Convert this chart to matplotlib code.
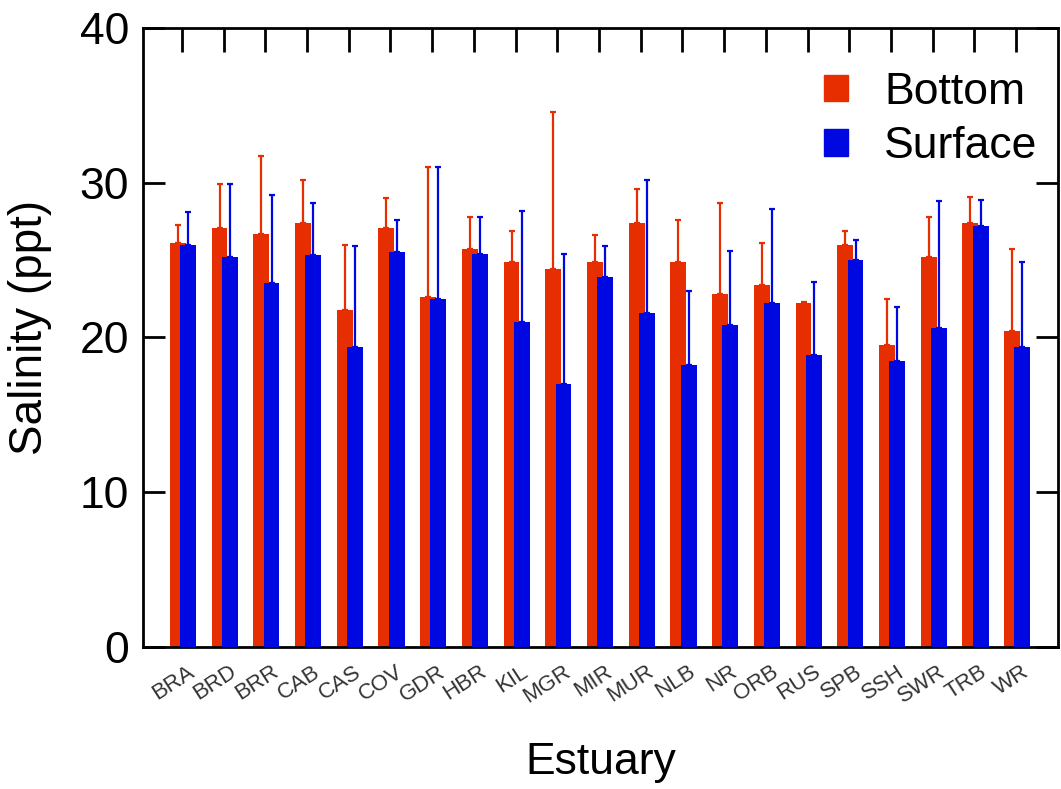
import numpy as np
import matplotlib.pyplot as plt
import matplotlib.transforms as mtransforms
from matplotlib.patches import Patch

plt.rcParams['font.family'] = ['Liberation Sans', 'DejaVu Sans']

estuaries = ['BRA', 'BRD', 'BRR', 'CAB', 'CAS', 'COV', 'GDR', 'HBR', 'KIL', 'MGR', 'MIR',
             'MUR', 'NLB', 'NR', 'ORB', 'RUS', 'SPB', 'SSH', 'SWR', 'TRB', 'WR']
bottom = [26.1, 27.1, 26.7, 27.4, 21.8, 27.1, 22.6, 25.7, 24.9, 24.4, 24.9,
          27.4, 24.9, 22.8, 23.4, 22.2, 26.0, 19.5, 25.2, 27.4, 20.4]
bottom_top = [27.3, 29.9, 31.7, 30.2, 26.0, 29.0, 31.0, 27.8, 26.9, 34.6, 26.6,
              29.6, 27.6, 28.7, 26.1, 22.3, 26.9, 22.5, 27.8, 29.1, 25.7]
surface = [26.0, 25.2, 23.5, 25.3, 19.4, 25.5, 22.5, 25.4, 21.0, 17.0, 23.9,
           21.6, 18.2, 20.8, 22.2, 18.9, 25.0, 18.5, 20.6, 27.2, 19.4]
surface_top = [28.1, 29.9, 29.2, 28.7, 25.9, 27.6, 31.0, 27.8, 28.2, 25.4, 25.9,
               30.2, 23.0, 25.6, 28.3, 23.6, 26.3, 22.0, 28.8, 28.9, 24.9]

red = '#e62e00'
blue = '#0008e2'

x = np.arange(len(estuaries))
w = 0.38
xr = x - 0.095
xb = x + 0.15
err_b = np.array(bottom_top) - np.array(bottom)
err_s = np.array(surface_top) - np.array(surface)

fig = plt.figure(figsize=(10.61, 7.89), dpi=100)
ax = fig.add_axes([0.1348, 0.180, 0.8622, 0.7845])

ax.bar(xr, bottom, w, color=red, zorder=2)
ax.errorbar(xr, bottom, yerr=[np.zeros(len(x)), err_b], fmt='none', ecolor=red,
            elinewidth=1.6, capsize=2, capthick=1.6, zorder=1)
ax.bar(xb, surface, w, color=blue, zorder=3)
ax.errorbar(xb, surface, yerr=[np.zeros(len(x)), err_s], fmt='none', ecolor=blue,
            elinewidth=1.6, capsize=2, capthick=1.6, zorder=2.5)

ax.set_xlim(-0.93, 21.0)
ax.set_ylim(0, 40)
ax.set_yticks([0, 10, 20, 30, 40])
ax.set_xticks(x)
ax.set_xticklabels(estuaries, rotation=33, ha='right', va='center',
                   rotation_mode='anchor', fontsize=16, color='#333333')
ax.tick_params(axis='x', bottom=False, top=True, direction='in', length=17, width=2,
               pad=0)
ax.tick_params(axis='y', left=True, right=True, direction='in', length=16, width=2,
               labelsize=32, pad=10)
for s in ax.spines.values():
    s.set_linewidth(2)

# move the slanted labels to the right of and below their ticks
offset = mtransforms.ScaledTranslation(0.11, -0.23, fig.dpi_scale_trans)
for lab in ax.get_xticklabels():
    lab.set_transform(lab.get_transform() + offset)

ax.set_xlabel('Estuary', fontsize=32)
ax.xaxis.set_label_coords(0.5, -0.153)
ax.set_ylabel('Salinity (ppt)', fontsize=33)
ax.yaxis.set_label_coords(-0.1, 0.517)

handles = [Patch(color=red, label='Bottom'), Patch(color=blue, label='Surface')]
ax.legend(handles=handles, loc='upper right', bbox_to_anchor=(0.997, 0.958),
          frameon=False, fontsize=32, handlelength=0.55, handleheight=0.55,
          handletextpad=0.8, labelspacing=0.3, borderaxespad=0)

fig.savefig('out.png', dpi=100)
